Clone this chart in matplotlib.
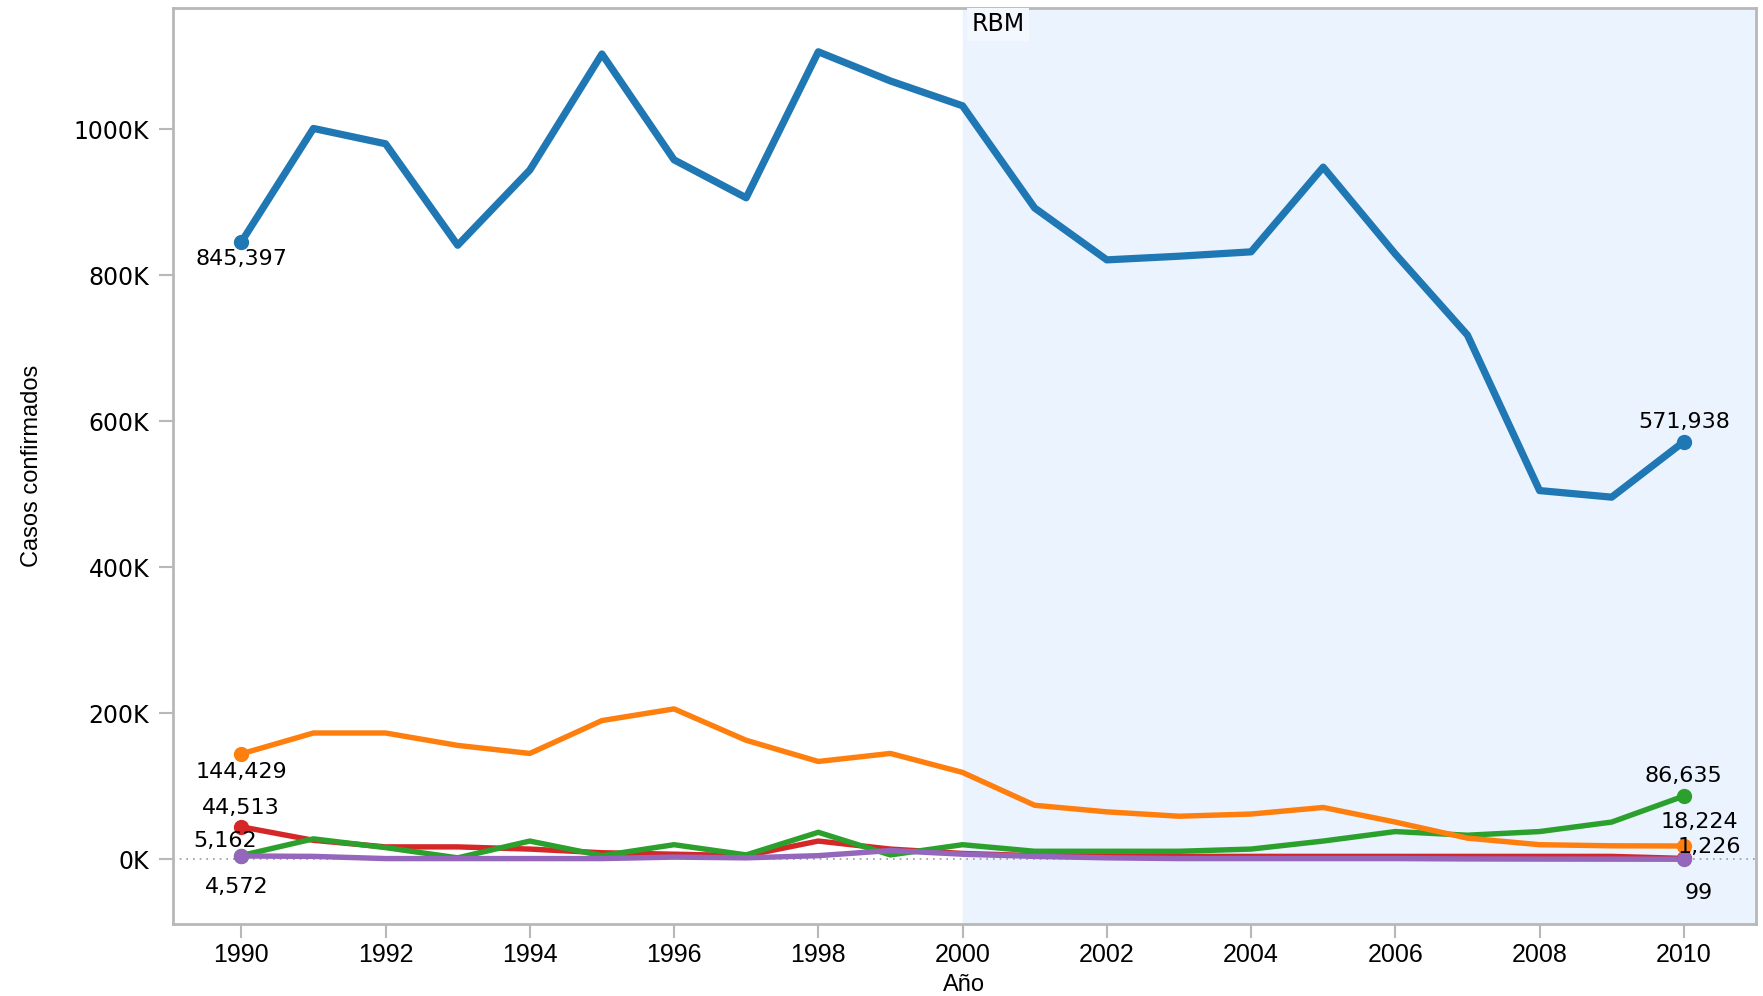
import matplotlib
matplotlib.use('Agg')
import matplotlib.pyplot as plt
from matplotlib import font_manager
from matplotlib.ticker import FuncFormatter

# Fonts: wide face for numbers, narrow one for axis titles / year ticks
names = {f.name for f in font_manager.fontManager.ttflist}
WIDE = 'DejaVu Sans'
NARROW = 'Liberation Sans Narrow' if 'Liberation Sans Narrow' in names else 'Liberation Sans'

# Data
years = list(range(1990, 2011))
series_blue = [845397, 1001000, 980000, 841000, 944000, 1103000, 958000, 906000, 1106000, 1066000,
               1032000, 892000, 821000, 826000, 832000, 948000, 829000, 718000, 505000, 496000, 571938]
series_orange = [144429, 173000, 173000, 156000, 145000, 190000, 206000, 163000, 134000, 145000,
                 119000, 74000, 65000, 59000, 62000, 71000, 51000, 29000, 20000, 18500, 18224]
series_red = [44513, 26000, 17000, 17000, 14000, 9000, 7000, 5000, 25000, 14000,
              8000, 5000, 4000, 4000, 4000, 4000, 4000, 4000, 4000, 4000, 1226]
series_green = [5162, 28000, 16000, 2000, 25000, 5000, 20000, 6000, 37000, 6000,
                20000, 11000, 11000, 11000, 14000, 25000, 38000, 33000, 38000, 51000, 86635]
series_purple = [4572, 4000, 1000, 1000, 1000, 1000, 3000, 2000, 5000, 12000,
                 7000, 4000, 2000, 1000, 1000, 1000, 1000, 500, 300, 200, 99]

colors = {'blue': '#1f77b4', 'orange': '#ff7f0e', 'red': '#d62728',
          'green': '#2ca02c', 'purple': '#9467bd'}

fig = plt.figure(figsize=(17.63, 9.96), dpi=100)
ax = fig.add_axes([0.098, 0.072, 0.898, 0.92])

ax.axvspan(2000, 2011, color='#ebf3fe', zorder=0)
ax.axhline(0, color='#999999', linestyle=(0, (1, 3)), linewidth=1.2, zorder=1)

for vals, c, lw in [(series_red, 'red', 3.9), (series_green, 'green', 3.9),
                    (series_orange, 'orange', 3.9), (series_purple, 'purple', 3.9),
                    (series_blue, 'blue', 5.2)]:
    ax.plot(years, vals, color=colors[c], linewidth=lw, zorder=3, solid_capstyle='round')
    ax.plot([years[0], years[-1]], [vals[0], vals[-1]], 'o', color=colors[c],
            markersize=10, zorder=4)

lab = dict(fontsize=16, family=WIDE, color='black', zorder=5)


def label(x, y, dx, dy, va):
    ax.annotate(f'{y:,}', (x, y), xytext=(dx, dy), textcoords='offset points',
                ha='center', va=va, **lab)


label(years[0], series_blue[0], 0, -5, 'top')
label(years[-1], series_blue[-1], 0, 7, 'bottom')
label(years[0], series_orange[0], 0, -6, 'top')
label(years[0], series_red[0], 0, 6, 'bottom')
label(years[0], series_green[0], -12, 3, 'bottom')
label(years[0], series_purple[0], -3, -15, 'top')
label(years[-1], series_green[-1], 0, 7, 'bottom')
label(years[-1], series_orange[-1], 11, 10, 'bottom')
label(years[-1], series_red[-1], 18, 1, 'bottom')
label(years[-1], series_purple[-1], 11, -17, 'top')

ax.text(2000.12, 1160000, 'RBM', fontsize=17, family=WIDE, ha='left', va='top',
        bbox=dict(facecolor='#f3f8ff', edgecolor='none', pad=3), zorder=5)

ax.set_xlim(1989.05, 2011.0)
ax.set_ylim(-89000, 1166000)
ax.set_xticks(range(1990, 2011, 2))
ax.set_yticks(range(0, 1000001, 200000))
ax.yaxis.set_major_formatter(FuncFormatter(lambda v, p: f'{int(v / 1000)}K'))

for s in ax.spines.values():
    s.set_color('#b8b8b8')
    s.set_linewidth(2)
ax.tick_params(axis='both', colors='#b8b8b8', length=10, width=1.5)
ax.tick_params(axis='y', pad=7)
for t in ax.get_yticklabels():
    t.set_color('black')
    t.set_fontsize(17)
    t.set_family(WIDE)
for t in ax.get_xticklabels():
    t.set_color('black')
    t.set_fontsize(18)
    t.set_family(NARROW)

ax.set_xlabel('Año', fontsize=17, family=NARROW, labelpad=5)
ax.set_ylabel('Casos confirmados', fontsize=17, family=NARROW, labelpad=22)

fig.savefig('out.png', dpi=100)
